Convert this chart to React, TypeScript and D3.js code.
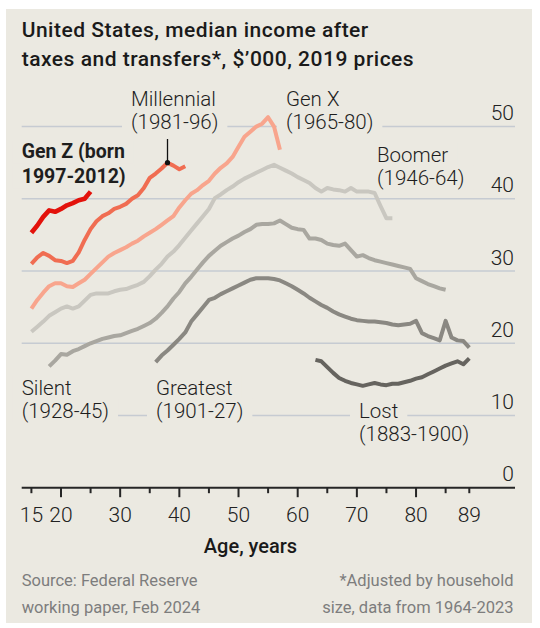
import React, { useEffect, useRef } from "react";
import * as d3 from "d3";

const W = 540;
const H = 628;

// ---- Data ($'000, 2019 prices) by age ----
const genZStart = 15;
const genZ = [35.3, 36.3, 37.5, 38.4, 38.2, 38.6, 39.1, 39.4, 39.8, 40.0, 41.0];

const millennialStart = 15;
const millennial = [
  31.0, 31.9, 32.5, 32.1, 31.5, 31.4, 31.1, 31.4, 32.6, 34.3, 35.8, 36.9, 37.6, 38.0,
  38.6, 38.9, 39.3, 40.0, 40.5, 41.5, 42.9, 43.5, 44.2, 45.0, 44.6, 44.1, 44.5,
];

const genXStart = 15;
const genX = [
  24.8, 26.0, 27.0, 27.9, 28.3, 28.3, 27.9, 27.8, 28.3, 28.8, 29.6, 30.4, 31.2, 32.0,
  32.5, 32.9, 33.3, 33.8, 34.2, 34.8, 35.3, 35.8, 36.4, 37.0, 37.6, 38.8, 39.8, 40.7,
  41.2, 41.9, 42.5, 43.5, 44.3, 44.9, 45.8, 47.2, 48.6, 49.3, 50.0, 50.4, 51.3, 50.0,
  46.8,
];

const boomerStart = 15;
const boomer = [
  21.6, 22.3, 23.0, 23.8, 24.3, 24.8, 25.1, 24.8, 25.1, 25.9, 26.7, 26.9, 26.9, 26.9,
  27.2, 27.4, 27.5, 27.8, 28.1, 28.5, 29.3, 30.2, 31.0, 32.0, 32.7, 33.6, 34.6, 35.6,
  36.6, 37.6, 38.6, 40.1, 40.6, 41.2, 41.7, 42.3, 42.8, 43.2, 43.6, 44.0, 44.4, 44.7,
  44.3, 43.9, 43.5, 43.0, 42.6, 42.2, 41.5, 41.0, 41.5, 41.3, 41.2, 41.0, 41.5, 41.0,
  41.0, 41.0, 40.8, 39.0, 37.3, 37.3,
];

const silentStart = 18;
const silent = [
  16.8, 17.6, 18.5, 18.4, 18.9, 19.2, 19.6, 20.0, 20.3, 20.6, 20.8, 21.0, 21.1, 21.4,
  21.7, 22.0, 22.4, 22.8, 23.4, 24.2, 25.1, 26.2, 27.1, 28.3, 29.2, 30.2, 31.2, 32.1,
  32.8, 33.5, 34.0, 34.5, 34.9, 35.4, 35.8, 36.4, 36.5, 36.5, 36.6, 37.0, 36.5, 36.0,
  35.8, 35.7, 34.5, 34.5, 34.3, 33.8, 33.6, 33.5, 33.8, 32.9, 32.0, 32.2, 31.8, 31.5,
  31.3, 31.1, 30.9, 30.7, 30.5, 30.3, 29.0, 28.6, 28.2, 27.9, 27.6, 27.4,
];

const greatestStart = 36;
const greatest = [
  17.4, 18.3, 19.0, 19.8, 20.6, 21.5, 23.0, 24.0, 25.0, 26.0, 26.3, 26.8, 27.2, 27.6,
  28.0, 28.4, 28.8, 29.0, 29.0, 29.0, 28.9, 28.7, 28.3, 27.9, 27.4, 26.9, 26.3, 25.8,
  25.3, 24.9, 24.4, 24.0, 23.7, 23.4, 23.2, 23.1, 23.0, 23.0, 22.9, 22.8, 22.6, 22.5,
  22.6, 22.7, 23.1, 21.4, 21.0, 20.7, 20.4, 23.1, 20.8, 20.4, 20.3, 19.4,
];

const lostStart = 63;
const lost = [
  17.7, 17.5, 16.7, 15.9, 15.2, 14.8, 14.5, 14.3, 14.1, 14.3, 14.5, 14.3, 14.2, 14.4,
  14.4, 14.6, 14.8, 15.1, 15.3, 15.7, 16.1, 16.5, 16.9, 17.2, 17.5, 17.1, 17.9,
];

const yTicks = [0, 10, 20, 30, 40, 50];
const xLabelTicks = [15, 20, 30, 40, 50, 60, 70, 80, 89];
const xMajorTicks = [20, 30, 40, 50, 60, 70, 80];
const xMinorTicks = [15, 25, 35, 45, 55, 65, 75, 85, 89];

const titleLines = [
  "United States, median income after",
  "taxes and transfers*, $\u2019000, 2019 prices",
];
const sourceLines = ["Source: Federal Reserve", "working paper, Feb 2024"];
const noteLines = ["*Adjusted by household", "size, data from 1964-2023"];

const series = [
  { name: "Lost", start: lostStart, values: lost, color: "#66645f", width: 4 },
  { name: "Greatest", start: greatestStart, values: greatest, color: "#8a8882", width: 4 },
  { name: "Silent", start: silentStart, values: silent, color: "#a9a7a0", width: 4 },
  { name: "Boomer", start: boomerStart, values: boomer, color: "#c9c7c0", width: 4 },
  { name: "Gen X", start: genXStart, values: genX, color: "#f8a58d", width: 4 },
  { name: "Millennial", start: millennialStart, values: millennial, color: "#f06d52", width: 4 },
  { name: "Gen Z", start: genZStart, values: genZ, color: "#e3120b", width: 4.6 },
];

const labels = [
  { lines: ["Millennial", "(1981-96)"], x: 131, y: 106, bold: false },
  { lines: ["Gen X", "(1965-80)"], x: 286, y: 106, bold: false },
  { lines: ["Gen Z (born", "1997-2012)"], x: 21.7, y: 158.3, bold: true },
  { lines: ["Boomer", "(1946-64)"], x: 377, y: 162, bold: false },
  { lines: ["Silent", "(1928-45)"], x: 21.7, y: 395, bold: false },
  { lines: ["Greatest", "(1901-27)"], x: 156, y: 395, bold: false },
  { lines: ["Lost", "(1883-1900)"], x: 359, y: 418, bold: false },
];

const BG = "#ebe9e1";
const FONT = "Roboto, 'Noto Sans', sans-serif";

export default function App() {
  const ref = useRef<SVGSVGElement | null>(null);

  useEffect(() => {
    const svg = d3.select(ref.current);
    svg.selectAll("*").remove();

    const x = d3.scaleLinear().domain([15, 89]).range([31.4, 469.3]);
    const y = d3.scaleLinear().domain([0, 50]).range([487.7, 126.6]);
    const left = 21.7;
    const right = 515;

    svg.append("rect").attr("x", 6).attr("y", 9).attr("width", 526).attr("height", 614).attr("fill", BG);

    // Title
    const title = svg.append("g");
    titleLines.forEach((t, i) => {
      title
        .append("text")
        .attr("x", left)
        .attr("y", 37.3 + i * 28.6)
        .attr("font-family", FONT)
        .attr("font-size", 21)
        .attr("letter-spacing", 0.5)
        .attr("font-weight", 500)
        .attr("fill", "#1a1a1a")
        .text(t);
    });

    // Gridlines
    const grid = svg.append("g");
    yTicks
      .filter((v) => v > 0)
      .forEach((v) => {
        grid
          .append("line")
          .attr("x1", left)
          .attr("x2", right)
          .attr("y1", y(v))
          .attr("y2", y(v))
          .attr("stroke", "#c6cbd2")
          .attr("stroke-width", 1.5);
      });

    // Y tick labels
    yTicks.forEach((v) => {
      svg
        .append("text")
        .attr("x", right - 1)
        .attr("y", y(v) - 6.5)
        .attr("text-anchor", "end")
        .attr("font-family", FONT)
        .attr("font-size", 21)
        .attr("font-weight", 300)
        .attr("fill", "#222")
        .text(String(v));
    });

    // Label text with per-line background masks
    const labelG = svg.append("g");
    labels.forEach((lab) => {
      lab.lines.forEach((ln, i) => {
        const yy = lab.y + i * (lab.bold ? 25 : 22.5);
        const bg = labelG.append("rect").attr("fill", BG);
        const t = labelG
          .append("text")
          .attr("x", lab.x)
          .attr("y", yy)
          .attr("font-family", FONT)
          .attr("font-size", lab.bold ? 19.5 : 20.5)
          .attr("font-weight", lab.bold ? 700 : 300)
          .attr("fill", "#1e1e1e")
          .text(ln);
        const bb = (t.node() as SVGTextElement).getBBox();
        bg.attr("x", bb.x - 9)
          .attr("y", bb.y)
          .attr("width", bb.width + 18)
          .attr("height", bb.height);
      });
    });

    // Axis
    svg
      .append("line")
      .attr("x1", left)
      .attr("x2", right)
      .attr("y1", y(0))
      .attr("y2", y(0))
      .attr("stroke", "#262626")
      .attr("stroke-width", 2);
    xMajorTicks.forEach((a) => {
      svg
        .append("line")
        .attr("x1", x(a))
        .attr("x2", x(a))
        .attr("y1", y(0))
        .attr("y2", y(0) + 9.5)
        .attr("stroke", "#262626")
        .attr("stroke-width", 2);
    });
    xMinorTicks.forEach((a) => {
      svg
        .append("line")
        .attr("x1", x(a))
        .attr("x2", x(a))
        .attr("y1", y(0))
        .attr("y2", y(0) + 5.5)
        .attr("stroke", "#262626")
        .attr("stroke-width", 2);
    });
    xLabelTicks.forEach((a) => {
      svg
        .append("text")
        .attr("x", x(a))
        .attr("y", 522.3)
        .attr("text-anchor", "middle")
        .attr("font-family", FONT)
        .attr("font-size", 21)
        .attr("font-weight", 300)
        .attr("fill", "#222")
        .text(String(a));
    });
    svg
      .append("text")
      .attr("x", 250.5)
      .attr("y", 553)
      .attr("text-anchor", "middle")
      .attr("font-family", FONT)
      .attr("font-size", 20)
      .attr("font-weight", 500)
      .attr("fill", "#1a1a1a")
      .text("Age, years");

    // Lines
    const line = d3
      .line<[number, number]>()
      .x((d) => x(d[0]))
      .y((d) => y(d[1]))
      .curve(d3.curveLinear);
    series.forEach((s) => {
      const pts: [number, number][] = s.values.map((v, i) => [s.start + i, v]);
      svg
        .append("path")
        .attr("d", line(pts) || "")
        .attr("fill", "none")
        .attr("stroke", s.color)
        .attr("stroke-width", s.width)
        .attr("stroke-linejoin", "round")
        .attr("stroke-linecap", "butt");
    });

    // Millennial pointer
    const peakIdx = d3.maxIndex(millennial);
    const pa = millennialStart + peakIdx;
    const pv = millennial[peakIdx];
    svg
      .append("line")
      .attr("x1", x(pa))
      .attr("x2", x(pa))
      .attr("y1", 139)
      .attr("y2", y(pv))
      .attr("stroke", "#111")
      .attr("stroke-width", 1.3);
    svg.append("circle").attr("cx", x(pa)).attr("cy", y(pv)).attr("r", 2.6).attr("fill", "#111");

    // Footer
    sourceLines.forEach((t, i) => {
      svg
        .append("text")
        .attr("x", left)
        .attr("y", 585.5 + i * 27.5)
        .attr("font-family", FONT)
        .attr("font-size", 16.5)
        .attr("font-weight", 400)
        .attr("fill", "#7d7d7d")
        .text(t);
    });
    noteLines.forEach((t, i) => {
      svg
        .append("text")
        .attr("x", 513.5)
        .attr("y", 585.5 + i * 27.5)
        .attr("text-anchor", "end")
        .attr("font-family", FONT)
        .attr("font-size", 16.5)
        .attr("font-weight", 400)
        .attr("fill", "#7d7d7d")
        .text(t);
    });
  }, []);

  return (
    <svg
      ref={ref}
      width={W}
      height={H}
      style={{ position: "absolute", left: 0, top: 0, background: "#fff" }}
    />
  );
}
